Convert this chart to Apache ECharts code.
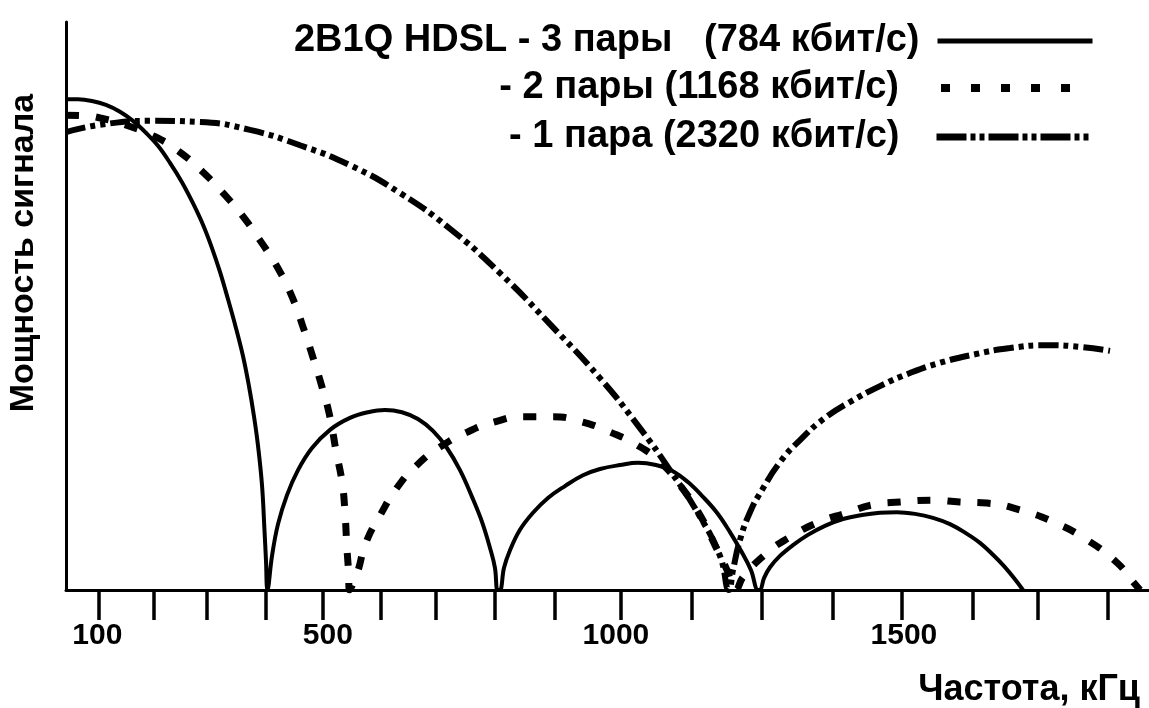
<!DOCTYPE html>
<html><head><meta charset="utf-8">
<script src="https://cdn.jsdelivr.net/npm/echarts@6/dist/echarts.min.js"></script>
<style>html,body{margin:0;padding:0;background:#fff}#c{width:1149px;height:708px}</style>
</head><body><div id="c"></div>
<script>
// Series names (legend text)
const name784 = '2B1Q HDSL - 3 пары   (784 кбит/с)';
const name1168 = '- 2 пары (1168 кбит/с)';
const name2320 = '- 1 пара (2320 кбит/с)';

// [frequency kHz, relative power]
const s784 = [[45.5,86.4],[66.3,86.4],[90.6,86.1],[114.9,85.4],[139.2,84.2],[161.8,82.6],[184.3,80.5],[205.2,78.2],[226.0,75.2],[246.8,71.8],[265.9,68.1],[283.3,64.3],[298.9,60.2],[312.8,56.0],[326.7,51.2],[340.6,46.1],[352.7,41.2],[363.1,35.9],[371.8,30.6],[378.8,25.4],[385.7,18.5],[390.0,10.6],[392.6,5.3],[395.2,0],
[403.1,6.0],[413.5,11.6],[429.1,16.7],[448.2,21.1],[472.5,25.0],[503.7,28.2],[538.4,30.3],[569.7,31.3],[599.2,31.7],[628.7,31.3],[656.5,30.1],[682.5,28.0],[706.8,25.0],[729.4,21.1],[750.2,16.4],[767.6,12.0],[781.5,7.4],[790.1,3.9],[794.5,0],
[798.8,0],[805.8,3.9],[816.2,7.0],[833.5,10.6],[856.1,13.6],[882.1,16.2],[911.6,18.3],[942.9,20.2],[972.4,21.3],[1007.1,22.0],[1038.4,22.4],[1069.6,22.0],[1097.4,21.0],[1125.1,19.0],[1151.2,16.4],[1175.5,13.6],[1198.0,10.2],[1217.2,6.9],[1234.5,3.5],[1246.7,0],
[1250.1,0],[1257.1,2.1],[1267.5,4.0],[1284.8,6.0],[1307.4,7.9],[1333.4,9.7],[1362.9,11.3],[1394.2,12.5],[1427.2,13.2],[1458.4,13.6],[1487.9,13.7],[1519.2,13.4],[1550.4,12.7],[1579.9,11.6],[1607.7,10.0],[1632.0,8.3],[1654.6,6.2],[1673.7,4.2],[1691.0,2.1],[1706.7,0]];

const s1168 = [[45.5,83.6],[79,83.5],[105,83.1],[148,81.9],[200,79.8],[243,77.1],[283,73.6],[318,69.9],[351,66.0],[382,61.6],[412,56.9],[438,51.6],[457,46.3],[474,41.0],[490,35.7],[504,30.3],[514,24.6],[525,18.8],[530,13.2],[533,7.6],[535.8,3.5],[537.6,0],
[551,3.0],[566,8.3],[591,13.2],[620,18.0],[655,22.0],[695,25.2],[742,27.8],[790,29.6],[839,30.5],[891,30.5],[941,29.6],[990,27.8],[1037,25.5],[1077,22.5],[1111,18.5],[1146,13.2],[1172,7.9],[1193,3.5],[1208,0],
[1221,2.3],[1262,6.5],[1302,9.3],[1349,11.8],[1401,13.6],[1446,15.0],[1493,15.5],[1550,15.8],[1597,15.5],[1644,15.3],[1701,14.1],[1759,12.0],[1818,8.8],[1870,4.8],[1898,1.4],[1910,0]];

const s2320 = [[45.5,80.6],[104.5,81.9],[191.3,82.6],[278.1,82.4],[364.9,81.0],[451.7,78.3],[538.4,74.8],[625.2,69.9],[712.0,63.6],[798.8,55.8],[885.6,46.8],[972.4,37.3],[1041.8,28.5],[1093.9,21.1],[1146.0,12.9],[1180.7,6.0],[1196.3,0],
[1203.3,3.5],[1215.4,8.8],[1232.8,13.7],[1253.6,17.6],[1284.8,22.5],[1319.6,26.4],[1362.9,30.3],[1406.3,33.1],[1458.4,35.9],[1510.5,38.2],[1562.6,40.0],[1623.3,41.5],[1684.1,42.6],[1748.3,43.1],[1805.6,42.8],[1857.7,42.1]];

// Axis ticks and labels
const tickValues = [103,197,290,393,492,592,688,790,894,1009,1132,1254,1377,1497,1620,1733,1854];
const labelValues = [100,500,1000,1500];
const xTitle = 'Частота, кГц';
const yTitle = 'Мощность сигнала';

const FONT = 'Liberation Sans, Arial, sans-serif';
const chart = echarts.init(document.getElementById('c'), null, {renderer:'canvas'});

function legendFor(name, right, top, width, padRight, lineStyle){
  return {
    data:[name], right:right, top:top, itemWidth:width, itemHeight:14, align:'right',
    padding:0, selectedMode:false,
    textStyle:{fontSize:38, fontWeight:'bold', fontFamily:FONT, color:'#000', padding:[0,padRight,0,0]},
    lineStyle:lineStyle, itemStyle:{opacity:0}
  };
}

chart.setOption({
  animation:false,
  backgroundColor:'#fff',
  grid:{left:66, right:0, top:22, bottom:118, outerBoundsMode:'none', containLabel:false},
  legend:[
    legendFor(name784, 54, 22, 155, 13, {width:5, type:'solid', color:'#000'}),
    legendFor(name1168, 71, 69, 133, 37, {width:8, type:[9,21], color:'#000'}),
    legendFor(name2320, 57, 118, 152, 32, {width:7, type:[30,4,5,4,5,4], color:'#000'})
  ],
  xAxis:{
    type:'value', min:45.5, max:1925.4,
    axisLine:{show:true, onZero:false, lineStyle:{color:'#000', width:3}},
    axisTick:{show:true, length:30, customValues:tickValues, lineStyle:{color:'#000', width:3.5}},
    axisLabel:{show:true, customValues:labelValues, formatter:function(v){return String(v);}, margin:31, fontSize:30, fontWeight:'bold', fontFamily:FONT, color:'#000'},
    splitLine:{show:false},
    name:xTitle, nameLocation:'end', nameGap:-9,
    nameTextStyle:{align:'right', verticalAlign:'top', padding:[82,0,0,0], fontSize:36, fontWeight:'bold', fontFamily:FONT, color:'#000'}
  },
  yAxis:{
    type:'value', min:0, max:100,
    axisLine:{show:true, onZero:false, lineStyle:{color:'#000', width:3}},
    axisTick:{show:false}, axisLabel:{show:false}, splitLine:{show:false},
    name:yTitle, nameLocation:'middle', nameRotate:90, nameGap:25,
    nameTextStyle:{fontSize:34, fontWeight:'bold', fontFamily:FONT, color:'#000', padding:[0,0,0,106]}
  },
  series:[
    {name:name784, type:'line', data:s784, symbol:'none', smooth:0.4, lineStyle:{color:'#000', width:4, type:'solid'}},
    {name:name1168, type:'line', data:s1168, symbol:'none', smooth:0.5, lineStyle:{color:'#000', width:7, type:[13,17]}},
    {name:name2320, type:'line', data:s2320, symbol:'none', smooth:0.5, lineStyle:{color:'#000', width:6, type:[20,5,5,5,5,5]}}
  ]
});
</script></body></html>
